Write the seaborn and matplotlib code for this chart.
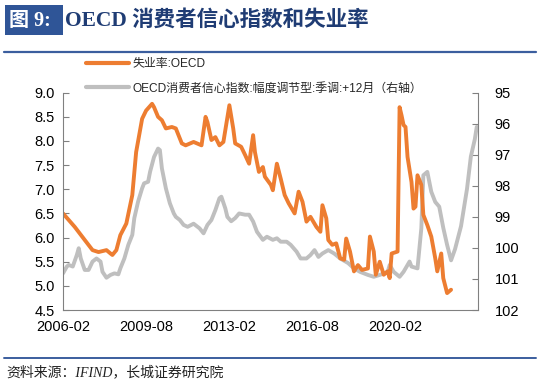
import matplotlib
matplotlib.use("Agg")
import matplotlib.pyplot as plt
import matplotlib.dates as mdates
from matplotlib.patches import Rectangle
from matplotlib.lines import Line2D
import seaborn as sns
import pandas as pd

# ---------------- data ----------------
unemp_dates = ["2006-02", "2006-08", "2007-01", "2007-05", "2007-08", "2007-12", "2008-02", "2008-03",
               "2008-05", "2008-07", "2008-10", "2009-01", "2009-03", "2009-06", "2009-08", "2009-11",
               "2009-12", "2010-02", "2010-04", "2010-06", "2010-09", "2010-11", "2011-02", "2011-04",
               "2011-08", "2011-12", "2012-02", "2012-03", "2012-05", "2012-07", "2012-09", "2012-11",
               "2013-02", "2013-04", "2013-05", "2013-08", "2013-10", "2013-12", "2014-02", "2014-03",
               "2014-05", "2014-07", "2014-08", "2014-11", "2014-12", "2015-02", "2015-04", "2015-06",
               "2015-08", "2015-11", "2016-01", "2016-03", "2016-05", "2016-07", "2016-10", "2016-12",
               "2017-01", "2017-03", "2017-04", "2017-06", "2017-08", "2017-10", "2017-12", "2018-01",
               "2018-03", "2018-05", "2018-07", "2018-09", "2018-12", "2019-01", "2019-03", "2019-04",
               "2019-06", "2019-08", "2019-10", "2019-11", "2019-12", "2020-03", "2020-04", "2020-05",
               "2020-06", "2020-07", "2020-08", "2020-10", "2020-11", "2020-12", "2021-01", "2021-03",
               "2021-04", "2021-06", "2021-08", "2021-10", "2021-11", "2022-01", "2022-02", "2022-04",
               "2022-06"]
unemp_values = [6.50, 6.22, 5.95, 5.74, 5.70, 5.74, 5.67, 5.64,
                5.74, 6.05, 6.29, 6.88, 7.77, 8.46, 8.63, 8.77,
                8.70, 8.50, 8.43, 8.26, 8.29, 8.26, 7.95, 7.91,
                7.98, 7.91, 8.50, 8.39, 8.02, 8.08, 7.91, 7.98,
                8.74, 8.26, 7.95, 7.88, 7.71, 7.53, 8.12, 7.77,
                7.36, 7.46, 7.26, 7.09, 6.98, 7.53, 7.22, 6.88,
                6.71, 6.50, 6.95, 6.74, 6.33, 6.43, 6.22, 6.12,
                6.67, 6.40, 5.95, 5.85, 5.88, 5.57, 5.54, 5.98,
                5.71, 5.30, 5.43, 5.33, 5.36, 6.02, 5.71, 5.23,
                5.50, 5.23, 5.30, 5.16, 5.67, 5.71, 8.70, 8.53,
                8.33, 8.29, 7.67, 7.15, 6.60, 6.64, 7.29, 7.09,
                6.47, 6.26, 6.02, 5.57, 5.30, 5.67, 5.16, 4.85,
                4.92]

# consumer confidence index (original dates; plotted 12 months later)
cci_dates = ["2005-02", "2005-04", "2005-05", "2005-07", "2005-09", "2005-10", "2005-11", "2006-01",
             "2006-03", "2006-05", "2006-07", "2006-09", "2006-10", "2006-12", "2007-02", "2007-04",
             "2007-06", "2007-07", "2007-09", "2007-11", "2008-01", "2008-02", "2008-04", "2008-06",
             "2008-07", "2008-09", "2008-10", "2008-12", "2009-02", "2009-03", "2009-04", "2009-06",
             "2009-08", "2009-10", "2009-11", "2010-01", "2010-03", "2010-05", "2010-08", "2010-11",
             "2011-01", "2011-03", "2011-05", "2011-07", "2011-09", "2011-10", "2011-12", "2012-01",
             "2012-03", "2012-05", "2012-07", "2012-10", "2012-12", "2013-02", "2013-04", "2013-07",
             "2013-09", "2013-12", "2014-02", "2014-04", "2014-07", "2014-09", "2014-12", "2015-02",
             "2015-05", "2015-07", "2015-09", "2015-11", "2016-01", "2016-04", "2016-07", "2016-10",
             "2017-02", "2017-05", "2017-08", "2017-12", "2018-03", "2018-06", "2018-10", "2018-11",
             "2019-01", "2019-04", "2019-06", "2019-09", "2019-10", "2020-01", "2020-03", "2020-04",
             "2020-06", "2020-08", "2020-10", "2020-12", "2021-02", "2021-04", "2021-06", "2021-08",
             "2021-11", "2022-02", "2022-04", "2022-06", "2022-07"]
cci_values = [100.82, 100.60, 100.55, 100.60, 100.23, 100.01, 100.34, 100.71,
              100.71, 100.44, 100.34, 100.44, 100.77, 100.96, 100.87, 100.82,
              100.85, 100.66, 100.34, 99.90, 99.58, 99.04, 98.50, 98.08,
              97.92, 97.87, 97.55, 97.07, 96.80, 96.85, 97.44, 98.08,
              98.56, 98.89, 99.00, 99.10, 99.26, 99.32, 99.22, 99.37,
              99.53, 99.26, 99.10, 98.78, 98.40, 98.35, 98.73, 99.00,
              99.14, 99.04, 98.89, 98.93, 98.93, 99.15, 99.48, 99.74,
              99.64, 99.74, 99.69, 99.80, 99.80, 99.90, 100.12, 100.34,
              100.34, 100.23, 100.07, 100.29, 100.18, 100.07, 100.18, 100.34,
              100.49, 100.66, 100.77, 100.87, 100.93, 100.87, 100.77, 100.55,
              100.77, 100.93, 100.77, 100.44, 100.60, 100.66, 99.37, 97.66,
              97.55, 98.19, 98.52, 98.67, 99.35, 99.90, 100.40, 100.04,
              99.30, 98.10, 97.06, 96.50, 96.10]

x_ticks = ["2006-02", "2009-08", "2013-02", "2016-08", "2020-02"]
left_ticks = [4.5, 5.0, 5.5, 6.0, 6.5, 7.0, 7.5, 8.0, 8.5, 9.0]
right_ticks = [95, 96, 97, 98, 99, 100, 101, 102]

label_unemp = "失业率:OECD"
label_cci = "OECD消费者信心指数:幅度调节型:季调:+12月（右轴）"
title_box = "图 9:"
title_text = "OECD 消费者信心指数和失业率"
source_text = "资料来源：IFIND，长城证券研究院"

# ---------------- frames ----------------
df_u = pd.DataFrame({"date": pd.to_datetime(unemp_dates), "value": unemp_values})
df_c = pd.DataFrame({"date": pd.to_datetime(cci_dates) + pd.DateOffset(months=12),
                     "value": cci_values})

sns.set_theme(style="white")
plt.rcParams["font.family"] = ["Liberation Sans", "Noto Sans CJK SC", "DejaVu Sans"]
plt.rcParams["axes.unicode_minus"] = False

ORANGE = "#ED7D31"
GRAY = "#BFBFBF"
BLUE = "#2F5597"
NAVY = "#1F3C74"

fig = plt.figure(figsize=(5.4, 3.86), dpi=100)
W, H = 540.0, 386.0
ax = fig.add_axes([63 / W, 1 - 310 / H, (478 - 63) / W, (310 - 92.7) / H])
ax2 = ax.twinx()

sns.lineplot(data=df_c, x="date", y="value", ax=ax2, color=GRAY, linewidth=2.8,
             label=label_cci, legend=False)
sns.lineplot(data=df_u, x="date", y="value", ax=ax, color=ORANGE, linewidth=2.8,
             label=label_unemp, legend=False)
ax.set_zorder(ax2.get_zorder() + 1)
ax.patch.set_visible(False)

ax.set_xlim(pd.Timestamp("2006-02-01"), pd.Timestamp("2023-07-20"))
ax.set_ylim(4.5, 9.0)
ax2.set_ylim(102, 95)
ax.set_xticks(pd.to_datetime(x_ticks))
ax.xaxis.set_major_formatter(mdates.DateFormatter("%Y-%m"))
ax.set_yticks(left_ticks)
ax.set_yticklabels([f"{v:.1f}" for v in left_ticks])
ax2.set_yticks(right_ticks)
ax2.set_yticklabels([str(v) for v in right_ticks])
ax.set_xlabel("")
ax.set_ylabel("")
ax2.set_ylabel("")

for a in (ax, ax2):
    a.grid(False)
    for s in a.spines.values():
        s.set_color("#808080")
        s.set_linewidth(0.8)
    a.spines["top"].set_visible(False)
ax.spines["right"].set_visible(False)
ax2.spines["left"].set_visible(False)
ax2.spines["bottom"].set_visible(False)

ax.tick_params(axis="both", direction="in", length=4, width=0.8, color="#808080",
               labelsize=10.5, labelcolor="#000000", pad=6)
ax.tick_params(axis="x", pad=7)
ax2.tick_params(axis="y", direction="in", length=4, width=0.8, color="#808080",
                labelsize=10.5, labelcolor="#000000", pad=12)
ax2.tick_params(axis="x", length=0)

# legend
handles = [Line2D([], [], color=ORANGE, linewidth=3.0), Line2D([], [], color=GRAY, linewidth=3.0)]
fig.legend(handles, [label_unemp, label_cci], loc="upper left",
           bbox_to_anchor=(86 / W, 1 - 58 / H), frameon=False, fontsize=8.6,
           handlelength=3.6, handletextpad=0.3, labelspacing=1.05, borderpad=0,
           borderaxespad=0)

# title bar
fig.patches.append(Rectangle((5 / W, 1 - 35 / H), 58 / W, 30 / H, transform=fig.transFigure,
                             facecolor=BLUE, edgecolor="none"))
fig.text(9 / W, 1 - 20.5 / H, title_box, color="white", fontsize=14.5, fontweight="bold",
         va="center", ha="left", family=["Liberation Serif", "Noto Sans CJK SC"])
fig.text(65 / W, 1 - 20.5 / H, title_text, color=NAVY, fontsize=15.5, fontweight="bold",
         va="center", ha="left", family=["Liberation Serif", "Noto Sans CJK SC"])
fig.add_artist(Line2D([4 / W, 536 / W], [1 - 51.5 / H, 1 - 51.5 / H], transform=fig.transFigure,
                      color="#3B5E9E", linewidth=1.6))

# source
fig.add_artist(Line2D([4 / W, 536 / W], [1 - 358 / H, 1 - 358 / H], transform=fig.transFigure,
                      color="#3B5E9E", linewidth=1.4))
fig.text(6 / W, 1 - 372 / H, source_text, color="#222222", fontsize=10, style="italic",
         va="center", ha="left", family=["Liberation Serif", "Noto Sans CJK SC"])

fig.savefig("out.png", dpi=100)
